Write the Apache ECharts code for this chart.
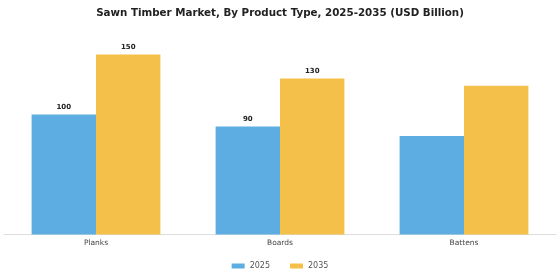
<!DOCTYPE html>
<html>
<head>
<meta charset="utf-8">
<script src="https://cdn.jsdelivr.net/npm/echarts@6/dist/echarts.min.js"></script>
<style>
  html, body { margin: 0; padding: 0; background: #fff; }
  #chart { width: 560px; height: 280px; }
</style>
</head>
<body>
<div id="chart"></div>
<script>
const categories = ['Planks', 'Boards', 'Battens'];
const years = ['2025', '2035'];
const values2025 = [100, 90, 82];
const values2035 = [150, 130, 124];
// which bars carry a value label in the source picture
const labeled2025 = [true, true, false];
const labeled2035 = [true, true, false];

const colors = ['#5DADE2', '#F5C04A'];

const chart = echarts.init(document.getElementById('chart'));

const toData = (vals, flags) => vals.map((v, i) => ({
  value: v,
  label: { show: flags[i] }
}));

const labelStyle = {
  position: 'top',
  distance: 4,
  fontSize: 7,
  fontWeight: 'bold',
  color: '#222',
  fontFamily: 'DejaVu Sans'
};

chart.setOption({
  animation: false,
  textStyle: { fontFamily: 'DejaVu Sans' },
  title: {
    text: 'Sawn Timber Market, By Product Type, 2025-2035 (USD Billion)',
    left: 'center',
    top: 3,
    textStyle: { fontSize: 10.3, fontWeight: 'bold', color: '#222', fontFamily: 'DejaVu Sans' }
  },
  legend: {
    data: years,
    bottom: 5,
    left: 'center',
    itemWidth: 13,
    itemHeight: 5,
    itemGap: 20,
    icon: 'rect',
    textStyle: { fontSize: 8, color: '#555' }
  },
  grid: { left: 4, right: 4, top: 42.5, bottom: 45.5 },
  xAxis: {
    type: 'category',
    data: categories,
    axisLine: { lineStyle: { color: '#ddd' } },
    axisTick: { show: false },
    axisLabel: { fontSize: 7.5, color: '#444', margin: 5 }
  },
  yAxis: {
    type: 'value',
    min: 0,
    max: 160,
    show: false
  },
  series: [
    {
      name: years[0],
      type: 'bar',
      data: toData(values2025, labeled2025),
      itemStyle: { color: colors[0] },
      barGap: '0%',
      barCategoryGap: '30%',
      label: labelStyle
    },
    {
      name: years[1],
      type: 'bar',
      data: toData(values2035, labeled2035),
      itemStyle: { color: colors[1] },
      barGap: '0%',
      barCategoryGap: '30%',
      label: labelStyle
    }
  ]
});
</script>
</body>
</html>
